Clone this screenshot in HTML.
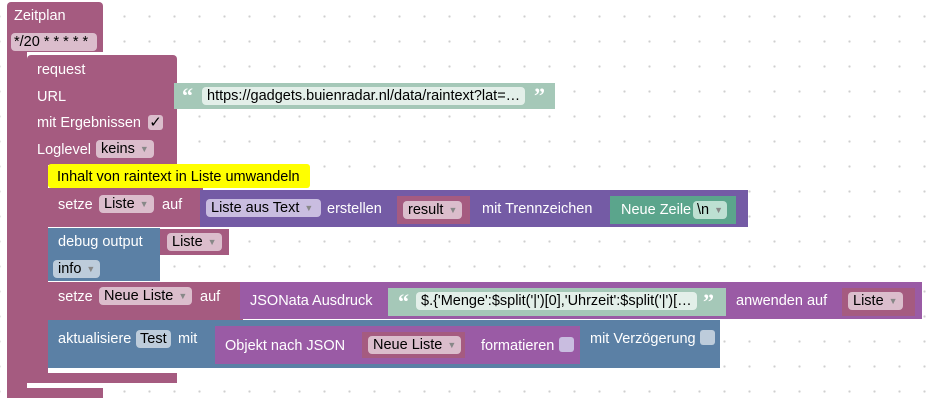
<!DOCTYPE html>
<html><head><meta charset="utf-8"><style>
body{margin:0;width:934px;height:405px;overflow:hidden;background:#fff;
background-image:radial-gradient(circle,#cfcfcf 1px,transparent 1.3px);background-size:25px 25px;background-position:12px 4px;
font-family:"Liberation Sans",sans-serif;font-size:14.5px}
.b{position:absolute}
.pk{background:#a55b80}.pu{background:#745ba5}.pm{background:#9a5ba5}.bl{background:#5b80a5}.tl{background:#a5c8b8}.gr{background:#5ba58c}
.t{position:absolute;color:#fff;white-space:nowrap;line-height:16px}
.f{position:absolute;border-radius:4px;color:#000;white-space:nowrap;line-height:18px;height:18px;padding:0 5px;box-sizing:border-box}
.fp{background:#dbbdcc}.fu{background:#c9bde0}.fb{background:#bdccdb}.fg{background:#bde0d2}.ft{background:#e3efe9}
.ar{color:#888;font-size:9px;margin-left:5px;vertical-align:1px}
.cb{position:absolute;width:15px;height:15px;border-radius:3px}
.q{font-size:22px;font-family:"Liberation Serif",serif;font-weight:bold}
</style></head><body>
<div class="b pk" style="left:7px;top:2px;width:96px;height:50px;border-radius:4px 4px 0 0"></div>
<div class="b pk" style="left:7px;top:52px;width:20px;height:346px"></div>
<div class="b pk" style="left:7px;top:388px;width:96px;height:10px"></div>
<div class="t" style="left:14px;top:8px">Zeitplan</div>
<div class="f fp" style="left:11px;top:33px;width:86px;padding:0 3px">*/20 * * * * *</div>
<div class="b pk" style="left:27px;top:55px;width:150px;height:110px;border-radius:4px 4px 0 0"></div>
<div class="b pk" style="left:27px;top:165px;width:21px;height:218px"></div>
<div class="b pk" style="left:27px;top:373px;width:150px;height:10px"></div>
<div class="t" style="left:37px;top:62px">request</div>
<div class="t" style="left:37px;top:89px">URL</div>
<div class="t" style="left:37px;top:115px">mit Ergebnissen</div>
<div class="cb fp" style="left:148px;top:115px;color:#000;font-size:15px;line-height:15px;text-align:center">✓</div>
<div class="t" style="left:37px;top:142px">Loglevel</div>
<div class="f fp" style="left:96px;top:140px">keins<span class="ar">▼</span></div>
<div class="b tl" style="left:174px;top:83px;width:381px;height:26px"></div>
<div class="t q" style="left:182px;top:88px">“</div>
<div class="f ft" style="left:202px;top:87px">https://gadgets.buienradar.nl/data/raintext?lat=…</div>
<div class="t q" style="left:534px;top:88px">”</div>
<div class="b" style="left:48px;top:164px;width:262px;height:24px;background:#ffff00;border-radius:3px"></div>
<div class="t" style="left:57px;top:169px;color:#000">Inhalt von raintext in Liste umwandeln</div>
<div class="b pk" style="left:48px;top:188px;width:155px;height:39px"></div>
<div class="t" style="left:58px;top:197px">setze</div>
<div class="f fp" style="left:99px;top:195px">Liste<span class="ar">▼</span></div>
<div class="t" style="left:162px;top:197px">auf</div>
<div class="b pu" style="left:200px;top:190px;width:548px;height:37px"></div>
<div class="f fu" style="left:206px;top:199px;width:115px">Liste aus Text<span class="ar">▼</span></div>
<div class="t" style="left:327px;top:201px">erstellen</div>
<div class="b pk" style="left:397px;top:196px;width:73px;height:28px"></div>
<div class="f fp" style="left:403px;top:201px">result<span class="ar">▼</span></div>
<div class="t" style="left:482px;top:201px">mit Trennzeichen</div>
<div class="b gr" style="left:610px;top:196px;width:126px;height:28px"></div>
<div class="t" style="left:621px;top:202px">Neue Zeile</div>
<div class="f fg" style="left:693px;top:201px;padding:0 4px">\n<span class="ar">▼</span></div>
<div class="b bl" style="left:48px;top:228px;width:112px;height:53px"></div>
<div class="t" style="left:58px;top:234px">debug output</div>
<div class="b pk" style="left:160px;top:229px;width:69px;height:26px"></div>
<div class="f fp" style="left:167px;top:233px">Liste<span class="ar">▼</span></div>
<div class="f fb" style="left:53px;top:260px">info<span class="ar">▼</span></div>
<div class="b pk" style="left:48px;top:282px;width:195px;height:38px"></div>
<div class="t" style="left:58px;top:289px">setze</div>
<div class="f fp" style="left:99px;top:287px">Neue Liste<span class="ar">▼</span></div>
<div class="t" style="left:200px;top:289px">auf</div>
<div class="b pm" style="left:240px;top:282px;width:682px;height:37px"></div>
<div class="t" style="left:250px;top:293px">JSONata Ausdruck</div>
<div class="b tl" style="left:388px;top:288px;width:338px;height:28px"></div>
<div class="t q" style="left:398px;top:294px">“</div>
<div class="f ft" style="left:416px;top:292px">$.{'Menge':$split('|')[0],'Uhrzeit':$split('|')[…</div>
<div class="t q" style="left:703px;top:294px">”</div>
<div class="t" style="left:736px;top:293px">anwenden auf</div>
<div class="b pk" style="left:842px;top:288px;width:73px;height:28px"></div>
<div class="f fp" style="left:848px;top:292px">Liste<span class="ar">▼</span></div>
<div class="b bl" style="left:48px;top:320px;width:672px;height:48px"></div>
<div class="t" style="left:58px;top:331px">aktualisiere</div>
<div class="f fb" style="left:136px;top:330px;padding:0 4px">Test</div>
<div class="t" style="left:178px;top:331px">mit</div>
<div class="b pm" style="left:215px;top:326px;width:365px;height:38px"></div>
<div class="t" style="left:225px;top:338px">Objekt nach JSON</div>
<div class="b pk" style="left:362px;top:332px;width:103px;height:26px"></div>
<div class="f fp" style="left:368px;top:336px">Neue Liste<span class="ar">▼</span></div>
<div class="t" style="left:481px;top:338px">formatieren</div>
<div class="cb fu" style="left:559px;top:337px"></div>
<div class="t" style="left:590px;top:331px">mit Verzögerung</div>
<div class="cb fb" style="left:700px;top:330px"></div>
</body></html>
